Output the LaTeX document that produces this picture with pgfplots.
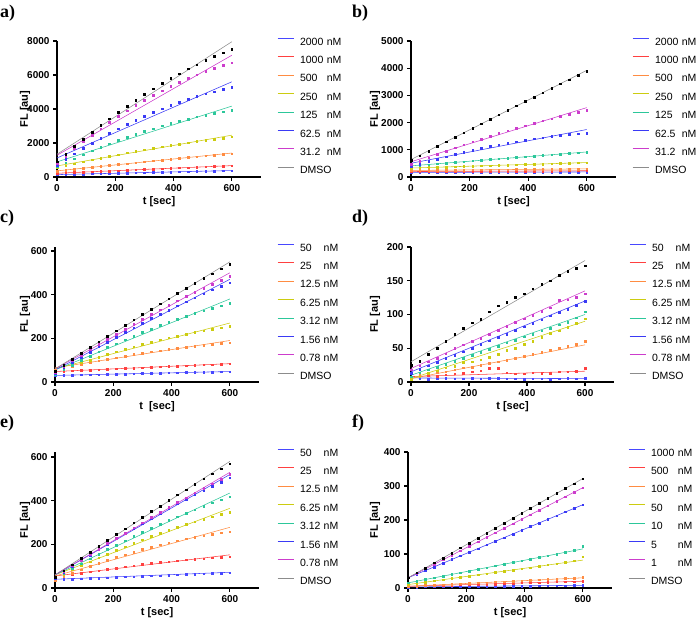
\documentclass[border=0pt]{standalone}
\usepackage{pgfplots}
\pgfplotsset{compat=1.18}
\usepackage{pgfplotstable}
\usepackage{fontspec}
\setmainfont{Liberation Sans}
\newfontfamily\serifb{Liberation Serif}

\definecolor{cb}{HTML}{4747FF}
\definecolor{cr}{HTML}{FF4040}
\definecolor{co}{HTML}{FF8C42}
\definecolor{cy}{HTML}{CCCC10}
\definecolor{ct}{HTML}{2CC79A}
\definecolor{cbb}{HTML}{3A3AF5}
\definecolor{cm}{HTML}{CC3CCC}
\definecolor{cg}{HTML}{8C8C8C}

\pgfplotstableread{
t s1 s2 s3 s4 s5 s6 s7 s8
0 140 220 330 550 600 700 800 900
30 152 242 391 669 847 1042 1240 1356
60 164 265 451 785 1086 1371 1666 1799
90 176 288 510 898 1316 1689 2076 2229
120 188 310 569 1008 1538 1995 2470 2646
150 200 332 626 1115 1751 2289 2850 3050
180 212 355 683 1219 1956 2571 3214 3439
210 224 378 738 1320 2152 2841 3564 3816
240 236 400 793 1418 2340 3099 3898 4180
270 248 422 847 1513 2519 3346 4216 4531
300 260 445 900 1605 2690 3580 4520 4869
330 272 468 952 1694 2852 3803 4808 5193
360 284 490 1003 1780 3006 4013 5082 5504
390 296 512 1053 1863 3151 4212 5340 5802
420 308 535 1103 1943 3288 4399 5582 6087
450 320 558 1151 2020 3416 4574 5810 6359
480 332 580 1199 2094 3536 4737 6022 6616
510 344 602 1245 2165 3647 4888 6220 6861
540 356 625 1291 2233 3750 5027 6402 7093
570 368 648 1336 2298 3844 5155 6568 7312
600 380 670 1380 2360 3930 5270 6720 7518
}\tA

\pgfplotstableread{
t s1 s2 s3 s4 s5 s6 s7 s8
0 170 200 240 330 400 380 460 620
30 171 202 243 340 428 478 588 790
60 172 203 246 350 456 572 713 959
90 172 204 249 360 484 662 835 1127
120 173 206 252 370 512 748 954 1295
150 174 208 255 380 539 831 1070 1462
180 175 209 258 390 566 910 1183 1629
210 176 210 261 400 592 985 1293 1795
240 176 212 264 410 618 1056 1400 1961
270 177 214 267 420 644 1124 1504 2126
300 178 215 270 430 670 1188 1605 2290
330 178 216 273 440 695 1248 1703 2454
360 179 218 276 450 720 1304 1798 2617
390 180 220 279 460 745 1357 1890 2779
420 181 221 282 470 770 1406 1979 2941
450 182 222 285 480 794 1451 2065 3102
480 182 224 288 490 818 1492 2148 3263
510 183 226 291 500 841 1530 2228 3423
540 184 227 294 510 864 1564 2305 3583
570 184 228 297 520 887 1594 2379 3742
600 185 230 300 530 910 1620 2450 3900
}\tB

\pgfplotstableread{
t s1 s2 s3 s4 s5 s6 s7 s8
0 30 48 55 45 35 40 45 50
30 31 50 64 60 57 65 71 77
60 32 52 73 74 78 90 97 104
90 33 53 81 88 99 114 123 131
120 34 55 90 101 119 137 147 158
150 34 57 98 114 139 161 172 184
180 35 59 105 127 158 183 196 210
210 36 61 112 139 176 206 219 235
240 37 62 119 151 194 228 243 260
270 38 64 126 162 211 249 265 285
300 39 66 133 173 228 270 288 310
330 40 68 139 183 243 291 309 334
360 41 70 144 193 259 311 331 358
390 42 71 150 202 274 330 352 382
420 43 73 155 211 288 349 372 406
450 44 75 160 219 301 368 392 429
480 44 77 165 227 314 386 411 452
510 45 79 169 235 327 404 430 474
540 46 80 173 242 338 422 449 496
570 47 82 177 249 349 439 467 518
600 48 84 180 255 360 455 485 540
}\tC

\pgfplotstableread{
t s1 s2 s3 s4 s5 s6 s7 s8
0 5 8 8 4 8 13 18 25
30 5 9 10 8 14 19 24 31
60 4 10 12 13 18 24 30 41
90 5 9 14 17 22 29 35 50
120 6 11 15 21 26 35 42 60
150 5 12 18 23 31 40 50 71
180 5 13 21 29 35 45 55 80
210 6 15 22 30 40 50 60 88
240 5 17 25 33 44 56 65 93
270 6 20 28 37 49 61 71 104
300 6 20 30 41 53 66 77 113
330 5 14 32 47 58 71 83 118
360 5 12 35 50 62 77 89 126
390 4 12 38 56 67 82 94 131
420 5 14 41 60 71 87 99 138
450 5 13 44 66 76 92 105 145
480 4 13 47 72 80 98 110 150
510 5 15 50 76 85 103 121 158
540 6 15 53 81 89 108 122 164
570 5 16 56 87 95 114 126 169
600 6 20 60 94 104 120 131 172
}\tD

\pgfplotstableread{
t s1 s2 s3 s4 s5 s6 s7 s8
0 38 46 35 43 43 45 50 50
30 40 53 52 63 67 72 76 79
60 41 61 68 83 90 99 102 107
90 43 67 84 102 112 126 128 136
120 44 74 99 120 134 151 154 164
150 46 80 113 138 156 177 179 191
180 48 86 127 156 177 202 204 219
210 49 92 140 173 197 227 228 246
240 51 98 153 189 217 251 252 272
270 52 103 165 205 237 274 276 299
300 54 108 177 221 256 298 300 325
330 56 113 187 236 274 320 323 351
360 57 117 198 250 292 343 346 376
390 59 121 207 264 310 364 369 402
420 60 125 216 278 327 386 392 427
450 62 129 225 291 343 407 414 451
480 64 132 233 303 359 427 436 476
510 65 135 240 315 375 448 457 500
540 67 138 246 327 390 467 478 523
570 68 141 253 338 404 486 499 547
600 70 143 258 348 418 505 520 570
}\tE

\pgfplotstableread{
t s1 s2 s3 s4 s5 s6 s7 s8
0 3 5 5 10 15 30 30 30
30 3 6 6 14 20 41 43 45
60 4 7 8 17 25 52 57 59
90 4 7 9 21 30 62 70 74
120 4 8 10 24 35 73 83 88
150 4 9 11 28 40 84 96 103
180 5 10 13 32 45 95 110 118
210 5 10 14 35 50 105 123 132
240 5 11 15 39 55 116 136 147
270 5 12 16 42 60 127 149 161
300 6 12 18 46 65 138 163 176
330 6 13 19 50 70 148 176 191
360 6 14 20 53 75 159 189 205
390 6 15 21 57 80 170 202 220
420 6 15 23 60 85 181 216 234
450 7 16 24 64 90 191 229 249
480 7 17 25 68 95 202 242 264
510 7 18 26 71 100 213 255 278
540 7 18 28 75 105 224 269 293
570 8 19 29 80 112 234 282 307
600 8 20 32 92 123 245 295 322
}\tF

\newcommand{\pts}[3]{\addplot[only marks, mark=square*, mark size=0.8pt, color=#3, forget plot] table[x=t, y=#2] {#1};}
\newcommand{\fit}[4]{\addplot[color=#1, line width=0.55pt] coordinates {(0,#2) (600,#3)}; \addlegendentry{#4}}
\newcommand{\nm}[2]{\makebox[#1][l]{#2}nM}

\pgfplotsset{
  panel/.style={
    scale only axis, width=204pt, height=136pt,
    xmin=0, xmax=700, ymin=0, clip=false,
    axis x line*=bottom, axis y line*=left,
    axis line style={line width=1.2pt, black},
    xtick={0,200,400,600}, minor tick num=0,
    tick align=outside, major tick length=4pt,
    tick style={line width=1.2pt, black},
    ticklabel style={font=\bfseries\fontsize{10}{12}\selectfont},
    /pgf/number format/assume math mode=true,
    /pgf/number format/set thousands separator={},
    scaled ticks=false,
    xlabel={t [sec]}, ylabel={FL [au]},
    label style={font=\bfseries\fontsize{11}{13}\selectfont},
    xlabel style={at={(axis description cs:0.5,0)}, anchor=center, yshift=-25pt},
    legend cell align=left,
    legend style={draw=none, fill=none, anchor=north west, inner sep=0pt,
      font=\fontsize{10.5}{12}\selectfont, row sep=8.4pt, column sep=6pt,
      nodes={inner sep=0pt, text height=8pt, text depth=2pt}},
    legend image code/.code={\draw[#1, line width=0.9pt] (0pt,3.6pt) -- (16pt,3.6pt);},
  }
}

\begin{document}
\begin{tikzpicture}
\path[use as bounding box] (0,0) rectangle (697pt,621pt);

% panel labels
\begin{scope}[every node/.style={anchor=north west, inner sep=0pt, font=\serifb\bfseries\fontsize{18}{20}\selectfont}]
\node at (0pt,616pt) {a)};
\node at (352pt,616pt) {b)};
\node at (0pt,411pt) {c)};
\node at (352pt,411pt) {d)};
\node at (0pt,206pt) {e)};
\node at (352pt,206pt) {f)};
\end{scope}

% a
\begin{axis}[panel, at={(57pt,444pt)}, anchor=south west, width=204pt,
  ymax=8000, ytick={0,2000,4000,6000,8000},
  ylabel style={at={(axis description cs:0,0.5)}, anchor=center, yshift=32pt},
  legend style={at={(axis description cs:1.078,1.03)}}]
\fit{cb}{140}{380}{\nm{2.55em}{2000}}\pts{\tA}{s1}{cb}
\fit{cr}{220}{670}{\nm{2.55em}{1000}}\pts{\tA}{s2}{cr}
\fit{co}{360}{1410}{\nm{2.55em}{500}}\pts{\tA}{s3}{co}
\fit{cy}{650}{2460}{\nm{2.55em}{250}}\pts{\tA}{s4}{cy}
\fit{ct}{890}{4170}{\nm{2.55em}{125}}\pts{\tA}{s5}{ct}
\fit{cbb}{1120}{5600}{\nm{2.55em}{62.5}}\pts{\tA}{s6}{cbb}
\fit{cm}{1280}{7160}{\nm{2.55em}{31.2}}\pts{\tA}{s7}{cm}
\fit{cg}{1340}{7958}{DMSO}\pts{\tA}{s8}{black}
\end{axis}

% b
\begin{axis}[panel, at={(411pt,444pt)}, anchor=south west, width=205pt,
  ymax=5000, ytick={0,1000,2000,3000,4000,5000},
  ylabel style={at={(axis description cs:0,0.5)}, anchor=center, yshift=36pt},
  legend style={at={(axis description cs:1.078,1.03)}}]
\fit{cb}{170}{185}{\nm{2.55em}{2000}}\pts{\tB}{s1}{cb}
\fit{cr}{200}{230}{\nm{2.55em}{1000}}\pts{\tB}{s2}{cr}
\fit{co}{240}{300}{\nm{2.55em}{500}}\pts{\tB}{s3}{co}
\fit{cy}{330}{530}{\nm{2.55em}{250}}\pts{\tB}{s4}{cy}
\fit{ct}{410}{920}{\nm{2.55em}{125}}\pts{\tB}{s5}{ct}
\fit{cbb}{505}{1745}{\nm{2.55em}{62.5}}\pts{\tB}{s6}{cbb}
\fit{cm}{560}{2550}{\nm{2.55em}{31.2}}\pts{\tB}{s7}{cm}
\fit{cg}{640}{3920}{DMSO}\pts{\tB}{s8}{black}
\end{axis}

% c
\begin{axis}[panel, at={(55pt,239pt)}, anchor=south west, width=204pt, height=135pt,
  ymax=618, ytick={0,200,400,600}, xlabel={t\ \ [sec]},
  ylabel style={at={(axis description cs:0,0.5)}, anchor=center, yshift=30pt},
  legend style={at={(axis description cs:1.088,1.03)}}]
\fit{cb}{30}{48}{\nm{2.25em}{50}}\pts{\tC}{s1}{cb}
\fit{cr}{48}{84}{\nm{2.25em}{25}}\pts{\tC}{s2}{cr}
\fit{co}{65}{190}{\nm{2.25em}{12.5}}\pts{\tC}{s3}{co}
\fit{cy}{60}{270}{\nm{2.25em}{6.25}}\pts{\tC}{s4}{cy}
\fit{ct}{55}{380}{\nm{2.25em}{3.12}}\pts{\tC}{s5}{ct}
\fit{cbb}{55}{470}{\nm{2.25em}{1.56}}\pts{\tC}{s6}{cbb}
\fit{cm}{60}{500}{\nm{2.25em}{0.78}}\pts{\tC}{s7}{cm}
\fit{cg}{60}{550}{DMSO}\pts{\tC}{s8}{black}
\end{axis}

% d
\begin{axis}[panel, at={(411pt,239pt)}, anchor=south west, width=203pt, height=135pt,
  ymax=200, ytick={0,50,100,150,200},
  ylabel style={at={(axis description cs:0,0.5)}, anchor=center, yshift=36pt},
  legend style={at={(axis description cs:1.074,1.03)}}]
\fit{cb}{6}{5}{\nm{2.25em}{50}}\pts{\tD}{s1}{cb}
\fit{cr}{8}{16}{\nm{2.25em}{25}}\pts{\tD}{s2}{cr}
\fit{co}{5}{55}{\nm{2.25em}{12.5}}\pts{\tD}{s3}{co}
\fit{cy}{5}{90}{\nm{2.25em}{6.25}}\pts{\tD}{s4}{cy}
\fit{ct}{10}{100}{\nm{2.25em}{3.12}}\pts{\tD}{s5}{ct}
\fit{cbb}{15}{120}{\nm{2.25em}{1.56}}\pts{\tD}{s6}{cbb}
\fit{cm}{20}{135}{\nm{2.25em}{0.78}}\pts{\tD}{s7}{cm}
\fit{cg}{30}{180}{DMSO}\pts{\tD}{s8}{black}
\end{axis}

% e
\begin{axis}[panel, at={(55pt,33pt)}, anchor=south west, width=204pt, height=136pt,
  ymax=623, ytick={0,200,400,600},
  ylabel style={at={(axis description cs:0,0.5)}, anchor=center, yshift=30pt},
  legend style={at={(axis description cs:1.088,1.03)}}]
\fit{cb}{40}{72}{\nm{2.25em}{50}}\pts{\tE}{s1}{cb}
\fit{cr}{55}{152}{\nm{2.25em}{25}}\pts{\tE}{s2}{cr}
\fit{co}{55}{278}{\nm{2.25em}{12.5}}\pts{\tE}{s3}{co}
\fit{cy}{60}{365}{\nm{2.25em}{6.25}}\pts{\tE}{s4}{cy}
\fit{ct}{60}{435}{\nm{2.25em}{3.12}}\pts{\tE}{s5}{ct}
\fit{cbb}{60}{520}{\nm{2.25em}{1.56}}\pts{\tE}{s6}{cbb}
\fit{cm}{60}{530}{\nm{2.25em}{0.78}}\pts{\tE}{s7}{cm}
\fit{cg}{60}{580}{DMSO}\pts{\tE}{s8}{black}
\end{axis}

% f
\begin{axis}[panel, at={(408pt,33pt)}, anchor=south west, width=204pt, height=136pt,
  ymax=400, ytick={0,100,200,300,400},
  ylabel style={at={(axis description cs:0,0.5)}, anchor=center, yshift=33pt},
  legend style={at={(axis description cs:1.078,1.03)}}]
\fit{cb}{3}{8}{\nm{2.55em}{1000}}\pts{\tF}{s1}{cb}
\fit{cr}{5}{20}{\nm{2.55em}{500}}\pts{\tF}{s2}{cr}
\fit{co}{5}{30}{\nm{2.55em}{100}}\pts{\tF}{s3}{co}
\fit{cy}{10}{82}{\nm{2.55em}{50}}\pts{\tF}{s4}{cy}
\fit{ct}{15}{115}{\nm{2.55em}{10}}\pts{\tF}{s5}{ct}
\fit{cbb}{30}{245}{\nm{2.55em}{5}}\pts{\tF}{s6}{cbb}
\fit{cm}{30}{295}{\nm{2.55em}{1}}\pts{\tF}{s7}{cm}
\fit{cg}{30}{322}{DMSO}\pts{\tF}{s8}{black}
\end{axis}
\end{tikzpicture}
\end{document}
